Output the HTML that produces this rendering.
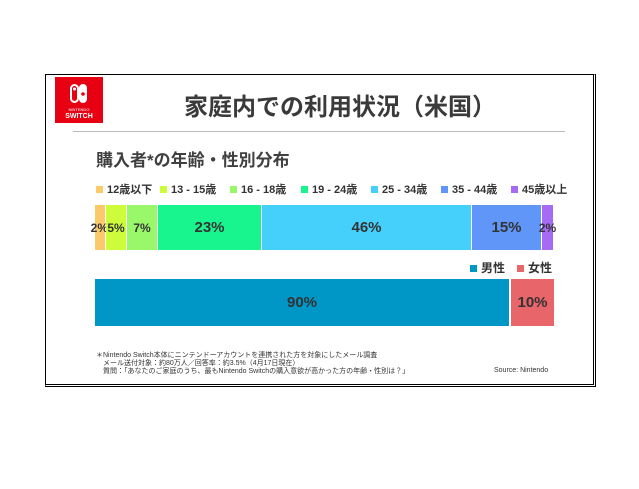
<!DOCTYPE html>
<html><head><meta charset="utf-8"><style>
body{margin:0;width:639px;height:489px;background:#fff;position:relative;overflow:hidden;font-family:"Liberation Sans","Noto Sans CJK JP",sans-serif;}
.a{position:absolute;}
.seg{position:absolute;top:205px;height:45px;display:flex;align-items:center;justify-content:center;font-size:15px;font-weight:bold;color:#333;}
.lg{position:absolute;top:181px;font-size:11px;font-weight:bold;color:#333;white-space:nowrap;}
.lg i{display:inline-block;width:7px;height:7px;margin-right:4px;vertical-align:0px;}
.fn{position:absolute;left:96px;font-size:7px;color:#333;white-space:nowrap;}
</style></head><body>
<div class="a" style="left:45px;top:74px;width:547px;height:309px;border:1px solid #000;border-right:3px double #000;border-bottom:3px double #000;"></div>
<div class="a" style="left:55px;top:77px;width:48px;height:46px;background:#e60012;">
<svg width="48" height="46" viewBox="0 0 48 46"><rect x="16" y="8" width="7" height="17" rx="3.5" fill="none" stroke="#fff" stroke-width="2"/><rect x="24" y="7" width="8" height="19" rx="4" fill="#fff"/><circle cx="28" cy="17" r="1.8" fill="#e60012"/><circle cx="19.5" cy="12" r="1.5" fill="#fff"/><text x="24" y="34" font-size="4" fill="#fff" text-anchor="middle" font-family="Liberation Sans">NINTENDO</text><text x="24" y="41" font-size="7" font-weight="bold" fill="#fff" text-anchor="middle" font-family="Liberation Sans">SWITCH</text></svg></div>
<div class="a" style="left:130px;top:87px;width:420px;text-align:center;font-size:24px;font-weight:bold;color:#3a3a3a;">家庭内での利用状況（米国）</div>
<div class="a" style="left:73px;top:131px;width:492px;height:1px;background:#bbb;"></div>
<div class="a" style="left:96px;top:146px;font-size:17px;font-weight:bold;color:#404040;">購入者*の年齢・性別分布</div>
<div class="lg" style="left:96px"><i style="background:#fcc96a"></i>12歳以下</div>
<div class="lg" style="left:160px"><i style="background:#ccfc3a"></i>13 - 15歳</div>
<div class="lg" style="left:230px"><i style="background:#99f86a"></i>16 - 18歳</div>
<div class="lg" style="left:301px"><i style="background:#19f58e"></i>19 - 24歳</div>
<div class="lg" style="left:371px"><i style="background:#45d0fc"></i>25 - 34歳</div>
<div class="lg" style="left:441px"><i style="background:#5f96f7"></i>35 - 44歳</div>
<div class="lg" style="left:511px"><i style="background:#a66af5"></i>45歳以上</div>
<div class="seg" style="left:95px;width:10px;background:#fcc96a;font-size:12px;justify-content:flex-end;"><span style="margin-right:-3px">2%</span></div>
<div class="seg" style="left:106px;width:20px;background:#ccfc3a;font-size:12px;">5%</div>
<div class="seg" style="left:127px;width:30px;background:#99f86a;font-size:12px;">7%</div>
<div class="seg" style="left:158px;width:103px;background:#19f58e;">23%</div>
<div class="seg" style="left:262px;width:209px;background:#45d0fc;">46%</div>
<div class="seg" style="left:472px;width:69px;background:#5f96f7;">15%</div>
<div class="seg" style="left:542px;width:11px;background:#a66af5;font-size:12px;">2%</div>
<div class="lg" style="left:470px;top:259px;font-size:12px"><i style="background:#0096c6"></i>男性</div>
<div class="lg" style="left:517px;top:259px;font-size:12px"><i style="background:#e8656a"></i>女性</div>
<div class="seg" style="left:95px;top:279px;height:47px;width:414px;background:#0096c6;">90%</div>
<div class="seg" style="left:511px;top:279px;height:47px;width:43px;background:#e8656a;">10%</div>
<div class="fn" style="top:350px">＊Nintendo Switch本体にニンテンドーアカウントを連携された方を対象にしたメール調査</div>
<div class="fn" style="top:358px;left:103px">メール送付対象：約80万人／回答率：約3.5%（4月17日現在）</div>
<div class="fn" style="top:366px;left:103px">質問：「あなたのご家庭のうち、最もNintendo Switchの購入意欲が高かった方の年齢・性別は？」</div>
<div class="fn" style="top:367px;left:494px">Source: Nintendo</div>
</body></html>
